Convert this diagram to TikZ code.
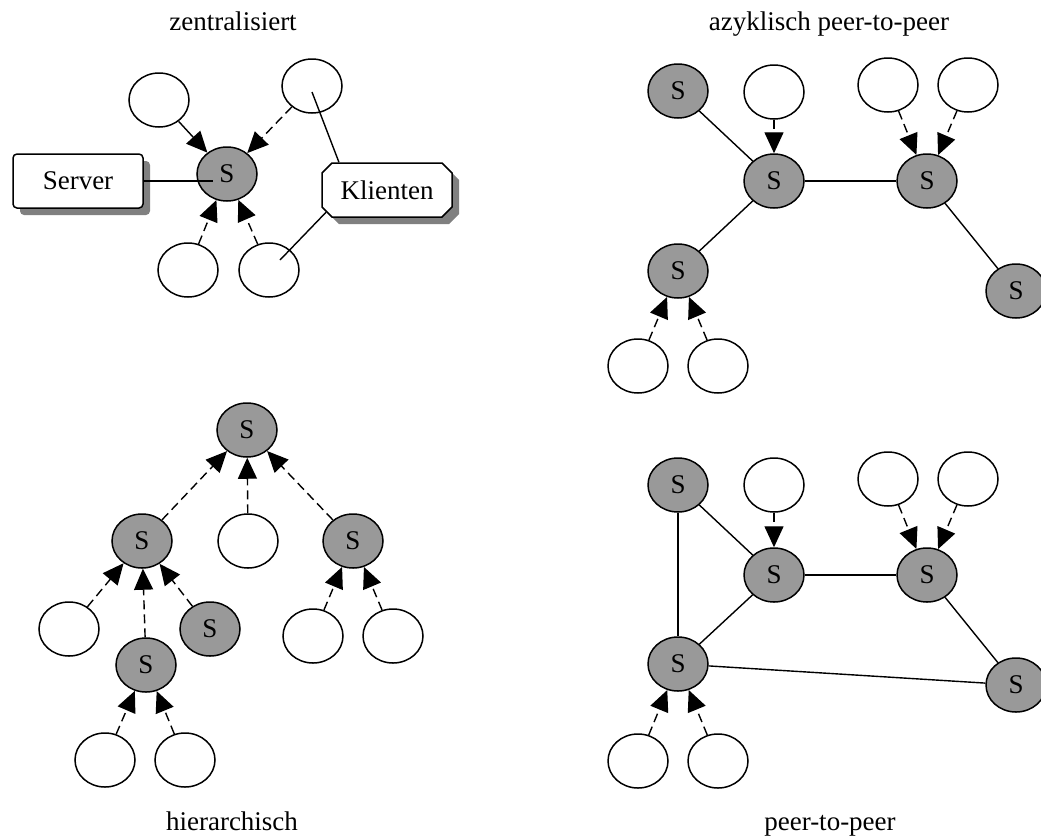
\documentclass[tikz,border=0pt]{standalone}
\usepackage{fontspec}
\setmainfont{Liberation Serif}
\usetikzlibrary{arrows.meta,shapes.geometric,shapes.misc,shadows}

\begin{document}
\begin{tikzpicture}[x=1pt, y=-1pt,
  every node/.style={font=\fontsize{27}{32}\selectfont},
  srv/.style={ellipse, draw, line width=1.5pt, fill=black!40,
    minimum width=60pt, minimum height=54pt, inner sep=0pt},
  cli/.style={ellipse, draw, line width=1.5pt, fill=white,
    minimum width=60pt, minimum height=54pt, inner sep=0pt},
  box/.style={draw, line width=1.5pt, fill=white, minimum width=130pt,
    minimum height=54pt, drop shadow={shadow xshift=7pt,
    shadow yshift=-7pt, fill=black!50, opacity=1}},
  link/.style={line width=1.4pt},
  tip/.style={-{Triangle[length=21pt,width=19pt]}},
  req/.style={tip, line width=1.4pt, dash pattern=on 9pt off 5pt},
  title/.style={anchor=base}
]
\useasboundingbox (0,0) rectangle (1041,836);

% zentralisiert
\node[title] (ttla) at (233, 30) {zentralisiert};
\node[cli] (a1) at (159, 100) {};
\node[cli] (a2) at (312, 86) {};
\node[srv] (as) at (227, 174) {S};
\node[cli] (a3) at (188, 270) {};
\node[cli] (a4) at (269, 270) {};
\node[box, rounded corners=4pt] (server) at (78, 181) {Server};
\node[box, chamfered rectangle, chamfered rectangle xsep=5pt,
  chamfered rectangle ysep=5pt] (klient) at (387, 190) {Klienten};
\coordinate (aspt) at (213, 181);
\coordinate (a2pt) at (312, 92);
\coordinate (a4pt) at (280, 260);

\draw[link] (server) -- (aspt);
\draw[link] (klient.150) -- (a2pt);
\draw[link] (klient.200) -- (a4pt);
\draw[link, tip] (a1) -- (as);
\draw[req] (a2) -- (as);
\draw[req] (a3) -- (as);
\draw[req] (a4) -- (as);

% azyklisch peer-to-peer
\node[title] (ttlb) at (829, 30) {azyklisch peer-to-peer};
\node[srv] (bsa) at (678, 91) {S};
\node[cli] (bwa) at (774, 92) {};
\node[cli] (bwb) at (888, 85) {};
\node[cli] (bwc) at (968, 85) {};
\node[srv] (bsb) at (774, 181) {S};
\node[srv] (bsc) at (927, 181) {S};
\node[srv] (bsd) at (678, 271) {S};
\node[srv] (bse) at (1016, 291) {S};
\node[cli] (bwd) at (638, 366) {};
\node[cli] (bwe) at (718, 366) {};

\draw[link] (bsa) -- (bsb);
\draw[link] (bsb) -- (bsc);
\draw[link] (bsb) -- (bsd);
\draw[link] (bsc) -- (bse);
\draw[req] (bwa) -- (bsb);
\draw[req] (bwb) -- (bsc);
\draw[req] (bwc) -- (bsc);
\draw[req] (bwd) -- (bsd);
\draw[req] (bwe) -- (bsd);

% hierarchisch
\node[title] (ttlc) at (232, 830) {hierarchisch};
\node[srv] (croot) at (247, 430) {S};
\node[srv] (cl) at (142, 541) {S};
\node[cli] (cm) at (248, 541) {};
\node[srv] (cr) at (353, 541) {S};
\node[cli] (cll) at (69, 629) {};
\node[srv] (clr) at (210, 629) {S};
\node[srv] (clm) at (146, 665) {S};
\node[cli] (crl) at (313, 636) {};
\node[cli] (crr) at (393, 636) {};
\node[cli] (cb1) at (105, 760) {};
\node[cli] (cb2) at (185, 760) {};

\draw[req] (cl) -- (croot);
\draw[req] (cm) -- (croot);
\draw[req] (cr) -- (croot);
\draw[req] (cll) -- (cl);
\draw[req] (clm) -- (cl);
\draw[req] (clr) -- (cl);
\draw[req] (crl) -- (cr);
\draw[req] (crr) -- (cr);
\draw[req] (cb1) -- (clm);
\draw[req] (cb2) -- (clm);

% peer-to-peer
\node[title] (ttld) at (830, 830) {peer-to-peer};
\node[srv] (dsa) at (678, 485) {S};
\node[cli] (dwa) at (774, 485) {};
\node[cli] (dwb) at (888, 479) {};
\node[cli] (dwc) at (968, 479) {};
\node[srv] (dsb) at (774, 575) {S};
\node[srv] (dsc) at (927, 575) {S};
\node[srv] (dsd) at (678, 664) {S};
\node[srv] (dse) at (1016, 685) {S};
\node[cli] (dwd) at (638, 761) {};
\node[cli] (dwe) at (718, 761) {};

\draw[link] (dsa) -- (dsd);
\draw[link] (dsa) -- (dsb);
\draw[link] (dsb) -- (dsc);
\draw[link] (dsb) -- (dsd);
\draw[link] (dsc) -- (dse);
\draw[link] (dsd) -- (dse);
\draw[req] (dwa) -- (dsb);
\draw[req] (dwb) -- (dsc);
\draw[req] (dwc) -- (dsc);
\draw[req] (dwd) -- (dsd);
\draw[req] (dwe) -- (dsd);
\end{tikzpicture}
\end{document}
